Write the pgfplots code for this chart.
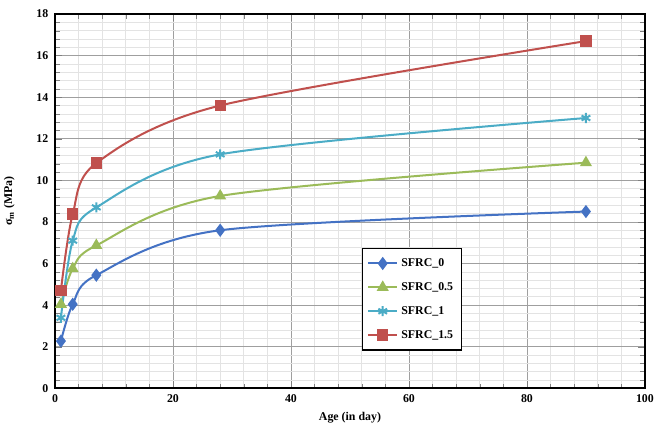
\documentclass[border=0pt]{standalone}
\usepackage{fontspec}
\setmainfont{Liberation Serif}
\usepackage{pgfplots}
\pgfplotsset{compat=1.18}
\definecolor{cA}{HTML}{4472C4}
\definecolor{cB}{HTML}{9BBB59}
\definecolor{cC}{HTML}{4BACC6}
\definecolor{cD}{HTML}{C0504D}
\begin{document}
\fontsize{7.1}{8.5}\selectfont\bfseries
\begin{tikzpicture}
\begin{axis}[
  scale only axis,
  width=352.8pt, height=223.8pt,
  xmin=0, xmax=100, ymin=0, ymax=18,
  xtick={0,20,40,60,80,100}, xticklabels={0,20,40,60,80,100},
  ytick={0,2,4,6,8,10,12,14,16,18}, yticklabels={0,2,4,6,8,10,12,14,16,18},
  minor xtick={4,8,12,16,24,28,32,36,44,48,52,56,64,68,72,76,84,88,92,96},
  minor ytick={0.4,0.8,1.2,1.6,2.4,2.8,3.2,3.6,4.4,4.8,5.2,5.6,6.4,6.8,7.2,7.6,8.4,8.8,9.2,9.6,10.4,10.8,11.2,11.6,12.4,12.8,13.2,13.6,14.4,14.8,15.2,15.6,16.4,16.8,17.2,17.6},
  grid=both,
  major grid style={gray!75, line width=0.5pt},
  minor grid style={gray!22, line width=0.4pt},
  axis line style={line width=1.1pt},
  yticklabel style={xshift=-1.5pt},
  xticklabel style={yshift=-1pt},
  xlabel={Age (in day)},
  ylabel={σ\textsubscript{m} (MPa)},
  xlabel shift=1pt,
  ylabel shift=8pt,
  legend style={at={(0.52,0.375)}, anchor=north west, fill=white, draw=black, line width=0.8pt, row sep=4.5pt, inner ysep=4pt},
  legend cell align=left,
]
\addplot[cA, line width=1.2pt, smooth, mark=diamond*, mark size=3pt] coordinates {(1,2.27) (3,4.04) (7,5.44) (28,7.6) (90,8.5)};
\addlegendentry{SFRC\_0}
\addplot[cB, line width=1.2pt, smooth, mark=triangle*, mark size=3pt] coordinates {(1,4.04) (3,5.75) (7,6.87) (28,9.25) (90,10.85)};
\addlegendentry{SFRC\_0.5}
\addplot[cC, line width=1.2pt, smooth, mark=asterisk, mark size=3pt] coordinates {(1,3.39) (3,7.1) (7,8.7) (28,11.25) (90,13.0)};
\addlegendentry{SFRC\_1}
\addplot[cD, line width=1.2pt, smooth, mark=square*, mark size=2.8pt] coordinates {(1,4.71) (3,8.38) (7,10.83) (28,13.6) (90,16.7)};
\addlegendentry{SFRC\_1.5}
\end{axis}
\path (current axis.south east) ++(13.8pt,0pt);
\path (current axis.north west) ++(0pt,8.4pt);
\end{tikzpicture}
\end{document}
